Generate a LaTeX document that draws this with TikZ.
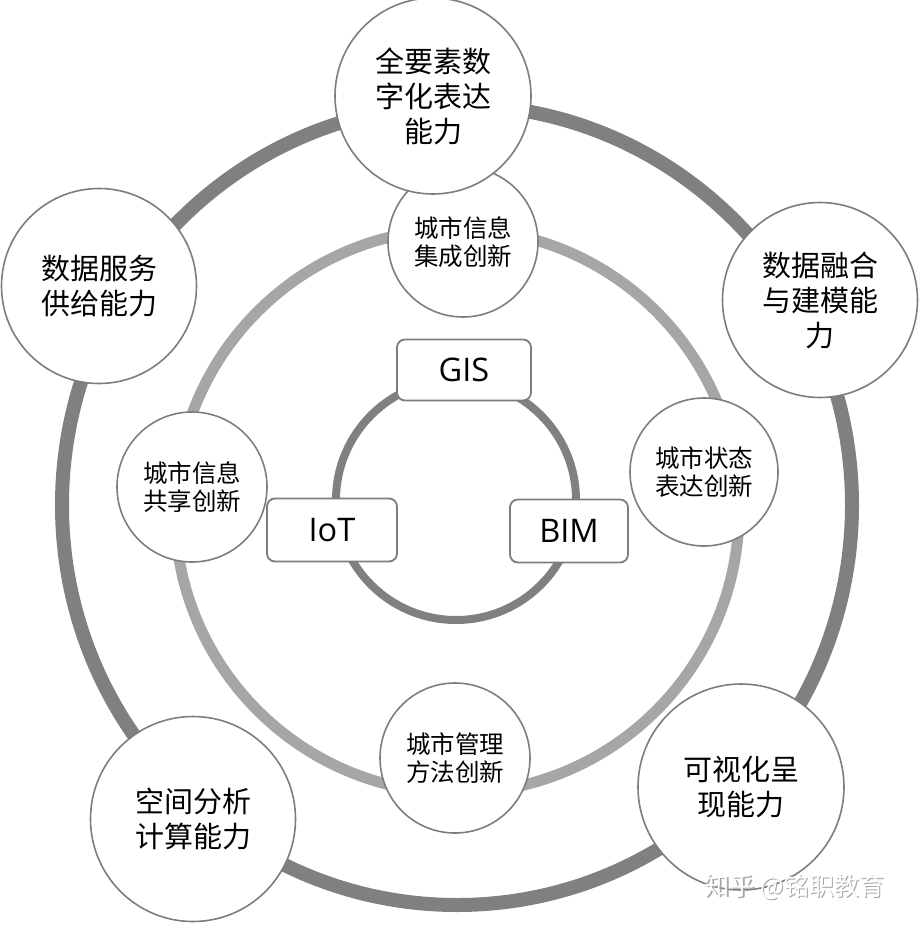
\documentclass[tikz,border=0pt]{standalone}
\usepackage{fontspec}
\setmainfont{Noto Sans CJK SC}
\newfontfamily\latinfont{Open Sans}
\definecolor{ringdark}{RGB}{128,128,128}
\definecolor{ringlight}{RGB}{166,166,166}
\definecolor{ringinner}{RGB}{128,128,128}
\definecolor{edgegray}{RGB}{125,125,125}
\begin{document}
\begin{tikzpicture}[x=1pt,y=-1pt,
  bigcirc/.style={circle, draw=edgegray, line width=1.6pt, fill=white, inner sep=0pt, align=center, font=\fontsize{29}{35}\selectfont},
  smallcirc/.style={circle, draw=edgegray, line width=1.6pt, fill=white, inner sep=0pt, minimum size=150pt, align=center, font=\fontsize{24.5}{28.5}\selectfont},
  techbox/.style={draw=edgegray, line width=1.8pt, fill=white, rounded corners=8pt, inner sep=0pt, font=\latinfont\fontsize{32.5}{32.5}\selectfont},
  ring/.style={line width=#1}
]
\useasboundingbox (0,0) rectangle (919,929);
\fill[white] (0,0) rectangle (919,929);

% rings
\draw[ring=14pt, draw=ringdark] (457,505) ellipse [x radius=395pt, y radius=400pt];
\draw[ring=11pt, draw=ringlight] (457,511) circle [radius=282pt];
\draw[ring=8pt, draw=ringinner] (456,500) circle [radius=120pt];

% small circles on middle ring
\node[smallcirc] (sTop) at (463,242) {城市信息\\集成创新};
\node[smallcirc, minimum size=148pt] (sRight) at (704,472) {城市状态\\表达创新};
\node[smallcirc] (sBottom) at (455,758) {城市管理\\方法创新};
\node[smallcirc] (sLeft) at (192,487) {城市信息\\共享创新};

% big circles on outer ring
\node[bigcirc, minimum size=196pt] (bTop) at (433,96) {全要素数\\字化表达\\能力};
\node[bigcirc, minimum size=195pt] (bRightTop) at (820,300) {数据融合\\与建模能\\力};
\node[bigcirc, minimum size=206pt] (bRightBottom) at (741,787) {可视化呈\\现能力};
\node[bigcirc, minimum size=205pt] (bLeftBottom) at (193,819) {空间分析\\计算能力};
\node[bigcirc, minimum size=195pt] (bLeftTop) at (99,286) {数据服务\\供给能力};

% technology boxes on inner ring
\node[techbox, minimum width=134pt, minimum height=61pt] (gis) at (464,370) {GIS};
\node[techbox, minimum width=118pt, minimum height=63pt] (bim) at (569,531) {BIM};
\node[techbox, minimum width=130pt, minimum height=63pt] (iot) at (332,530) {IoT};

% watermark
\node[font=\fontsize{25}{25}\selectfont, text=gray!70] (wmShadow) at (795.8,888) {知乎 @铭职教育};
\node[font=\fontsize{25}{25}\selectfont, text=white] (wm) at (794.5,886.8) {知乎 @铭职教育};
\end{tikzpicture}
\end{document}
